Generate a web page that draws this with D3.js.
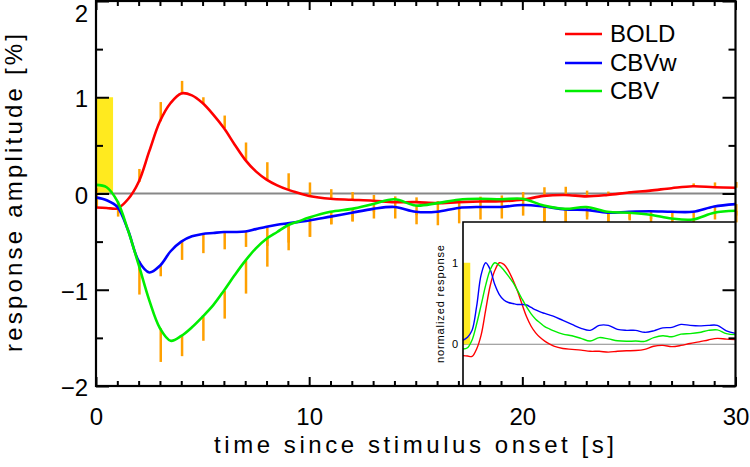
<!DOCTYPE html>
<html><head><meta charset="utf-8">
<script src="https://cdn.jsdelivr.net/npm/d3@7"></script>
<style>
body{margin:0;background:#fff}
svg{display:block}
text{font-family:"Liberation Sans",Arial,sans-serif}
</style>
</head><body>
<svg id="chart" width="750" height="467"></svg>
<script>
// ---------------- data ----------------
const seriesNames = ["BOLD", "CBVw", "CBV"];
const seriesColors = ["#ff0000", "#0000ff", "#00ee00"];
const time = [0,0.5,1,1.5,2,2.5,3,3.5,4,4.5,5,5.5,6,6.5,7,7.5,8,8.5,9,9.5,10,
              11,12,13,14,15,16,17,18,19,20,21,22,23,24,25,26,27,28,29,30];
const bold = [-0.145,-0.15,-0.155,-0.06,0.12,0.44,0.75,0.94,1.04,1.02,0.94,0.82,0.68,0.51,0.35,0.23,0.145,0.085,0.04,0.005,-0.025,
              -0.055,-0.065,-0.075,-0.09,-0.09,-0.1,-0.09,-0.083,-0.08,-0.065,-0.025,-0.015,-0.03,-0.015,0.01,0.03,0.055,0.075,0.065,0.06];
const cbvw = [-0.04,-0.07,-0.14,-0.38,-0.70,-0.82,-0.75,-0.60,-0.50,-0.445,-0.42,-0.41,-0.40,-0.40,-0.395,-0.37,-0.345,-0.325,-0.31,-0.295,-0.28,
              -0.24,-0.2,-0.16,-0.14,-0.19,-0.19,-0.15,-0.14,-0.14,-0.12,-0.135,-0.165,-0.17,-0.2,-0.19,-0.185,-0.19,-0.19,-0.135,-0.11];
const cbv  = [0.09,0.065,-0.08,-0.38,-0.74,-1.11,-1.40,-1.53,-1.48,-1.39,-1.28,-1.16,-1.01,-0.85,-0.70,-0.57,-0.47,-0.40,-0.33,-0.29,-0.25,
              -0.19,-0.16,-0.11,-0.06,-0.125,-0.1,-0.065,-0.055,-0.06,-0.055,-0.125,-0.16,-0.14,-0.19,-0.2,-0.22,-0.26,-0.27,-0.2,-0.18];
// error bars at integer seconds (BOLD drawn upward, CBVw/CBV drawn downward)
const errTime = d3.range(0, 31);
const boldErr = [0.2,0.05,0.135,0.2,0.13,0.06,0.13,0.18,0.18,0.17,0.14,0.1,0.08,0.06,0.06,0.05,0.02,0.01,0.05,0.06,0.08,0.09,0.085,0.06,0.035,0.015,0.01,0.01,0.03,0.05,0.06];
const cbvwErr = [0.08,0.1,0.1,0.11,0.19,0.2,0.18,0.16,0.2,0.2,0.17,0.08,0.09,0.1,0.12,0.13,0.14,0.16,0.13,0.12,0.11,0.17,0.14,0.1,0.11,0.08,0.08,0.09,0.08,0.07,0.12];
const cbvErr  = [0,0.05,0.31,0.35,0.21,0.25,0.29,0.34,0.29,0.26,0.2,0.13,0.13,0.08,0.08,0.1,0.1,0.1,0.08,0.08,0.08,0.18,0.14,0.1,0.11,0.08,0.08,0.09,0.08,0.07,0.12];
// stimulus block
const stimStart = 0, stimEnd = 0.8, stimAmp = 1;
// axis ticks
const xMajor = [0,10,20,30];
const xMinor = d3.range(0,31).filter(v => v % 10 !== 0);
const yMajor = [-2,-1,0,1,2];
const yMinor = [-1.5,-0.5,0.5,1.5];
const insetYLabels = [0,1];

// ---------------- layout ----------------
const svg = d3.select("#chart");
const L = 96, R = 735.5, T = 1, B = 386;
const x = d3.scaleLinear().domain([0,30]).range([L,R]);
const y = d3.scaleLinear().domain([-2,2]).range([B,T]);
const values = [bold, cbvw, cbv];
const errs = [boldErr, cbvwErr, cbvErr];
const dirs = [1, -1, -1];

// stimulus
svg.append("rect").attr("x", x(stimStart)).attr("y", y(stimAmp))
  .attr("width", x(stimEnd)-x(stimStart)).attr("height", y(0)-y(stimAmp))
  .attr("fill", "#ffea1f");
// zero line
svg.append("line").attr("x1", L).attr("x2", R).attr("y1", y(0)).attr("y2", y(0))
  .attr("stroke", "#888").attr("stroke-width", 2);

// error bars
values.forEach((vals, s) => {
  svg.append("g").selectAll("line").data(errTime).join("line")
    .attr("x1", t => x(t) + 0.8).attr("x2", t => x(t) + 0.8)
    .attr("y1", (t,i) => y(vals[time.indexOf(t)]))
    .attr("y2", (t,i) => y(vals[time.indexOf(t)] + dirs[s]*errs[s][i]))
    .attr("stroke", "#ffa000").attr("stroke-width", 2.5);
});

// curves
const line = d3.line().x((d,i) => x(time[i])).y(d => y(d)).curve(d3.curveCatmullRom.alpha(0.5));
values.forEach((vals, s) => {
  svg.append("path").datum(vals).attr("d", line)
    .attr("fill", "none").attr("stroke", seriesColors[s]).attr("stroke-width", 2.6);
});

// ---------------- inset ----------------
const iL = 463, iR = R, iT = 222, iB = 385;
const ix = d3.scaleLinear().domain([0,30]).range([iL,iR]);
const iy = d3.scaleLinear().domain([-0.5,1.5]).range([iB,iT]);
const inset = svg.append("g");
inset.append("rect").attr("x", iL).attr("y", iT).attr("width", iR-iL).attr("height", B-iT).attr("fill", "#fff");
inset.append("line").attr("x1", iL).attr("x2", iR).attr("y1", iy(0)).attr("y2", iy(0)).attr("stroke", "#888").attr("stroke-width", 1);
inset.append("rect").attr("x", ix(stimStart)).attr("y", iy(stimAmp))
  .attr("width", ix(stimEnd)-ix(stimStart)).attr("height", iy(0)-iy(stimAmp)).attr("fill", "#ffea1f");
const iline = d3.line().x((d,i) => ix(time[i])).y(d => iy(d)).curve(d3.curveCatmullRom.alpha(0.5));
values.forEach((vals, s) => {
  const peak = vals.reduce((a,b) => Math.abs(b) > Math.abs(a) ? b : a, 0);
  inset.append("path").datum(vals.map(v => v/peak)).attr("d", iline)
    .attr("fill", "none").attr("stroke", seriesColors[s]).attr("stroke-width", 1.4);
});
inset.append("path").attr("d", `M${iL},${B}V${iT}H${iR}`).attr("fill","none").attr("stroke","#000").attr("stroke-width",1.6);
inset.selectAll("text.il").data(insetYLabels).join("text").attr("class","il")
  .attr("x", 458).attr("y", d => iy(d)).attr("dy", "0.35em").attr("text-anchor","end")
  .attr("font-size", 11).text(d => d);
inset.append("text").attr("transform", `translate(444,304) rotate(-90)`)
  .attr("text-anchor","middle").attr("font-size", 11)
  .attr("textLength", 118).attr("lengthAdjust","spacing").text("normalized response");

// ---------------- axes / frame ----------------
function styleAxis(g){ g.select(".domain").remove(); g.selectAll("line").attr("stroke","#000").attr("stroke-width",2); g.attr("font-family",null); g.selectAll("text").attr("font-size",24).attr("fill","#000"); }
svg.append("g").attr("transform",`translate(0,${B})`)
  .call(d3.axisBottom(x).tickValues(xMajor).tickSize(-9).tickPadding(22).tickFormat(d3.format("d"))).call(styleAxis);
svg.append("g").attr("transform",`translate(0,${B})`)
  .call(d3.axisBottom(x).tickValues(xMinor).tickSize(-5).tickFormat("")).call(styleAxis);
svg.append("g").attr("transform",`translate(0,${T})`)
  .call(d3.axisTop(x).tickValues(xMajor).tickSize(-9).tickFormat("")).call(styleAxis);
svg.append("g").attr("transform",`translate(0,${T})`)
  .call(d3.axisTop(x).tickValues(xMinor).tickSize(-5).tickFormat("")).call(styleAxis);
const yAx = svg.append("g").attr("transform",`translate(${L},0)`)
  .call(d3.axisLeft(y).tickValues(yMajor).tickSize(-13).tickPadding(8).tickFormat(d3.format("d"))).call(styleAxis);
yAx.selectAll(".tick text").attr("y", d => Math.max(y(d), 12) - y(d) + 2);
svg.append("g").attr("transform",`translate(${L},0)`)
  .call(d3.axisLeft(y).tickValues(yMinor).tickSize(-7).tickFormat("")).call(styleAxis);
svg.append("g").attr("transform",`translate(${R},0)`)
  .call(d3.axisRight(y).tickValues(yMajor).tickSize(-13).tickFormat("")).call(styleAxis);
svg.append("g").attr("transform",`translate(${R},0)`)
  .call(d3.axisRight(y).tickValues(yMinor).tickSize(-7).tickFormat("")).call(styleAxis);
svg.append("rect").attr("x",L).attr("y",T).attr("width",R-L).attr("height",B-T)
  .attr("fill","none").attr("stroke","#000").attr("stroke-width",2.2);

// titles
svg.append("text").attr("x", 414).attr("y", 453).attr("text-anchor","middle").attr("font-size", 24)
  .attr("textLength", 400).attr("lengthAdjust","spacing").text("time since stimulus onset [s]");
svg.append("text").attr("transform","translate(22,193) rotate(-90)").attr("text-anchor","middle").attr("font-size", 24)
  .attr("textLength", 318).attr("lengthAdjust","spacing").text("response amplitude [%]");

// legend
const legY = [34, 63, 91];
seriesNames.forEach((n, i) => {
  svg.append("line").attr("x1",565).attr("x2",602).attr("y1",legY[i]).attr("y2",legY[i])
    .attr("stroke", seriesColors[i]).attr("stroke-width", 2.6);
  svg.append("text").attr("x", 610).attr("y", legY[i]).attr("dy","0.35em").attr("font-size", 24).text(n);
});
</script>
</body></html>
